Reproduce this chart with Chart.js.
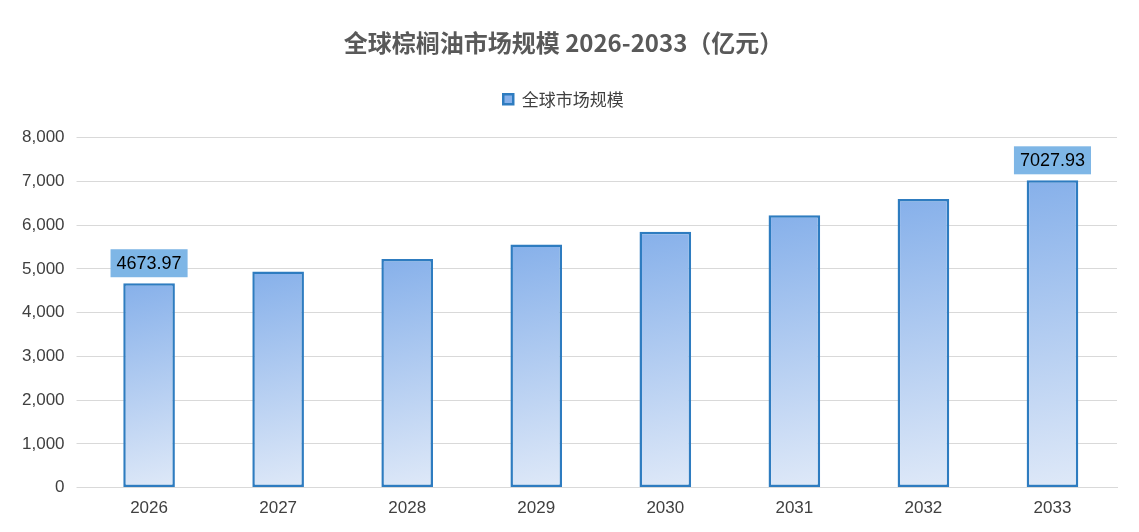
<!DOCTYPE html>
<html><head><meta charset="utf-8">
<script src="https://cdn.jsdelivr.net/npm/chart.js@4/dist/chart.umd.min.js"></script>
<style>body{margin:0;background:#fff}#w{width:1139px;height:532px}</style></head>
<body><div id="w"><canvas id="c"></canvas></div>
<script>
const categories=['2026','2027','2028','2029','2030','2031','2032','2033'];
const values=[4673.97,4940,5230,5560,5850,6230,6600,7027.93];
const labelled=[0,7];
const seriesName='全球市场规模';
const F='"Noto Sans CJK SC","Liberation Sans",sans-serif';
const labelPlugin={id:'lbl',afterDatasetsDraw(ch){
 const ctx=ch.ctx,meta=ch.getDatasetMeta(0);
 ctx.save();ctx.font='18px "Liberation Sans",Arial';ctx.textAlign='center';ctx.textBaseline='middle';
 labelled.forEach(i=>{const b=meta.data[i];const t=values[i].toFixed(2);const w=ctx.measureText(t).width+12;
  const y=b.y-20;ctx.fillStyle='#7eb6e6';ctx.fillRect(b.x-w/2,y-14,w,28);ctx.fillStyle='#000';ctx.fillText(t,b.x,y+1);});
 ctx.restore();}};
const legendGap={id:'lgap',beforeInit(ch){const l=ch.legend;if(l){const f=l.fit.bind(l);l.fit=function(){f();this.height+=20;};}}};
new Chart(document.getElementById('c'),{type:'bar',
 data:{labels:categories,datasets:[{label:seriesName,data:values,
  backgroundColor:(c)=>{const ch=c.chart,a=ch.chartArea;if(!a||c.dataIndex===undefined||!ch.scales.x)return '#9cc2ee';
   const x=ch.scales.x.getPixelForValue(c.dataIndex),y=ch.scales.y.getPixelForValue(values[c.dataIndex]);
   const g=ch.ctx.createLinearGradient(x-26,y,x+26,a.bottom);g.addColorStop(0,'#86b0ea');g.addColorStop(1,'#dfe9f8');return g;},
  borderColor:'#2e7cc0',borderWidth:2.5,borderSkipped:false,barPercentage:0.4,categoryPercentage:1}]},
 options:{responsive:true,maintainAspectRatio:false,animation:false,
  layout:{padding:{left:10,right:22,top:28,bottom:10}},
  plugins:{title:{display:true,text:'全球棕榈油市场规模 2026-2033（亿元）',color:'#595959',font:{family:F,size:24,weight:'bold'},padding:{top:0,bottom:24}},
   legend:{labels:{font:{family:F,size:17},color:'#404040',boxWidth:10,boxHeight:10}},tooltip:{enabled:false}},
  scales:{x:{grid:{display:false},border:{color:'#d9d9d9'},ticks:{color:'#404040',font:{family:'"Liberation Sans",Arial',size:17}}},
   y:{min:0,max:8000,ticks:{stepSize:1000,color:'#404040',padding:12,font:{family:'"Liberation Sans",Arial',size:17},callback:v=>v.toLocaleString('en-US')},
    grid:{color:'#d9d9d9'},border:{display:false}}}},
 plugins:[labelPlugin,legendGap]});
</script></body></html>
